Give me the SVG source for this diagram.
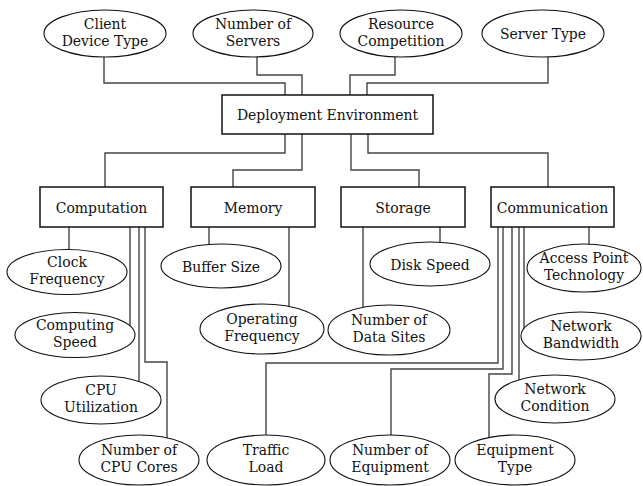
<svg xmlns="http://www.w3.org/2000/svg" width="643" height="486" viewBox="0 0 643 486">
<style>
.c{fill:none;stroke:#444;stroke-width:1.4}
.e{fill:#fff;stroke:#111;stroke-width:1.1}
.b{fill:#fff;stroke:#111;stroke-width:1.5}
.t{font-family:"DejaVu Serif Condensed","DejaVu Serif","Liberation Serif",serif;font-size:15.5px;fill:#111;text-anchor:middle}
</style>
<rect width="643" height="486" fill="#fff"/>
<g id="connectors">
<path class="c" d="M104,57 V83 H285 V95"/>
<path class="c" d="M257,57 V75 H302 V95"/>
<path class="c" d="M395,57 V75 H350 V95"/>
<path class="c" d="M548,57 V83 H367 V95"/>
<path class="c" d="M285,134 V153 H105 V187"/>
<path class="c" d="M302,134 V170 H233 V187"/>
<path class="c" d="M351,134 V170 H419 V187"/>
<path class="c" d="M368,134 V153 H548 V187"/>
<path class="c" d="M69,227 V255"/>
<path class="c" d="M130,227 V332"/>
<path class="c" d="M139,227 V385"/>
<path class="c" d="M145,227 V362 H167 V440"/>
<path class="c" d="M209,227 V250"/>
<path class="c" d="M289,227 V310"/>
<path class="c" d="M363,227 V310"/>
<path class="c" d="M440,227 V250"/>
<path class="c" d="M498,227 V363 H266 V440"/>
<path class="c" d="M503,227 V369 H391 V440"/>
<path class="c" d="M512,227 V374 H489 V440"/>
<path class="c" d="M519,227 V385"/>
<path class="c" d="M524,227 V334"/>
<path class="c" d="M589,227 V250"/>
</g>
<g id="client-device-type"><ellipse class="e" cx="105" cy="33.5" rx="61" ry="23.5"/><text class="t" x="105" y="28.5">Client</text><text class="t" x="105" y="45.5">Device Type</text></g>
<g id="number-of-servers"><ellipse class="e" cx="253" cy="33.5" rx="60" ry="23.5"/><text class="t" x="253" y="28.5">Number of</text><text class="t" x="253" y="45.5">Servers</text></g>
<g id="resource-competition"><ellipse class="e" cx="401" cy="33.5" rx="61" ry="23.5"/><text class="t" x="401" y="28.5">Resource</text><text class="t" x="401" y="45.5">Competition</text></g>
<g id="server-type"><ellipse class="e" cx="543" cy="33.5" rx="61" ry="23.5"/><text class="t" x="543" y="39">Server Type</text></g>
<g id="deployment-environment"><rect class="b" x="222" y="95" width="211" height="39"/><text class="t" x="327.5" y="120">Deployment Environment</text></g>
<g id="computation"><rect class="b" x="40" y="187" width="123" height="40"/><text class="t" x="101.5" y="212.5">Computation</text></g>
<g id="memory"><rect class="b" x="191" y="187" width="124" height="40"/><text class="t" x="253" y="212.5">Memory</text></g>
<g id="storage"><rect class="b" x="341" y="187" width="124" height="40"/><text class="t" x="403" y="212.5">Storage</text></g>
<g id="communication"><rect class="b" x="491" y="187" width="123" height="40"/><text class="t" x="552.5" y="212.5">Communication</text></g>
<g id="clock-frequency"><ellipse class="e" cx="67" cy="272" rx="60" ry="22.5"/><text class="t" x="67" y="267">Clock</text><text class="t" x="67" y="284">Frequency</text></g>
<g id="computing-speed"><ellipse class="e" cx="75" cy="335" rx="60" ry="22.5"/><text class="t" x="75" y="330">Computing</text><text class="t" x="75" y="347">Speed</text></g>
<g id="cpu-utilization"><ellipse class="e" cx="101" cy="400" rx="60" ry="24"/><text class="t" x="101" y="395">CPU</text><text class="t" x="101" y="412">Utilization</text></g>
<g id="number-of-cpu-cores"><ellipse class="e" cx="139" cy="460" rx="60" ry="25"/><text class="t" x="139" y="455">Number of</text><text class="t" x="139" y="472">CPU Cores</text></g>
<g id="buffer-size"><ellipse class="e" cx="221" cy="266" rx="60" ry="22"/><text class="t" x="221" y="271.5">Buffer Size</text></g>
<g id="operating-frequency"><ellipse class="e" cx="262" cy="329" rx="62" ry="25"/><text class="t" x="262" y="324">Operating</text><text class="t" x="262" y="341">Frequency</text></g>
<g id="disk-speed"><ellipse class="e" cx="430" cy="264" rx="60" ry="22"/><text class="t" x="430" y="269.5">Disk Speed</text></g>
<g id="number-of-data-sites"><ellipse class="e" cx="389" cy="330" rx="61" ry="25"/><text class="t" x="389" y="325">Number of</text><text class="t" x="389" y="342">Data Sites</text></g>
<g id="access-point-technology"><ellipse class="e" cx="584" cy="268" rx="57" ry="24"/><text class="t" x="584" y="263">Access Point</text><text class="t" x="584" y="280">Technology</text></g>
<g id="network-bandwidth"><ellipse class="e" cx="581" cy="336" rx="60" ry="24"/><text class="t" x="581" y="331">Network</text><text class="t" x="581" y="348">Bandwidth</text></g>
<g id="network-condition"><ellipse class="e" cx="555" cy="399" rx="60" ry="24"/><text class="t" x="555" y="394">Network</text><text class="t" x="555" y="411">Condition</text></g>
<g id="traffic-load"><ellipse class="e" cx="266" cy="460" rx="59" ry="25"/><text class="t" x="266" y="455">Traffic</text><text class="t" x="266" y="472">Load</text></g>
<g id="number-of-equipment"><ellipse class="e" cx="390" cy="460" rx="60" ry="25"/><text class="t" x="390" y="455">Number of</text><text class="t" x="390" y="472">Equipment</text></g>
<g id="equipment-type"><ellipse class="e" cx="515" cy="460" rx="60" ry="25"/><text class="t" x="515" y="455">Equipment</text><text class="t" x="515" y="472">Type</text></g>
</svg>
